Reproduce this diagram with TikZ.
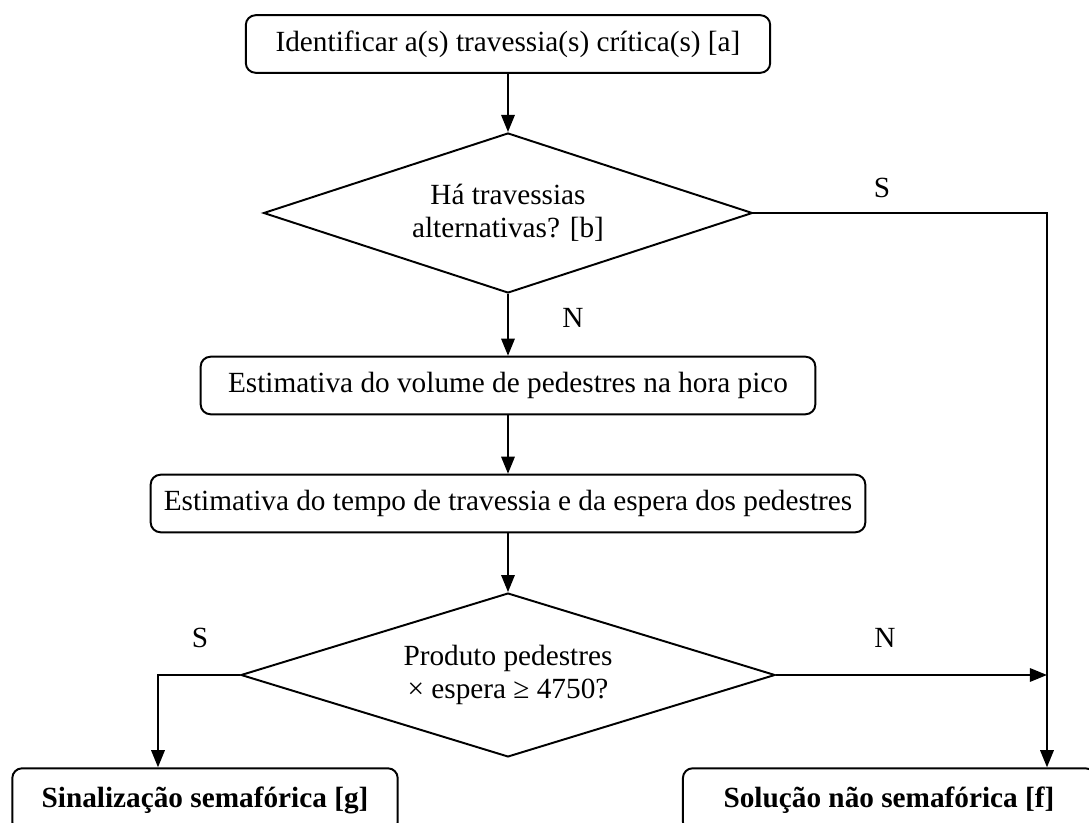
\documentclass[tikz,border=0pt]{standalone}
\usepackage{fontspec}
\setmainfont{Liberation Serif}
\usetikzlibrary{shapes.geometric, arrows.meta}

\begin{document}
\begin{tikzpicture}[x=0.41pt, y=-0.41pt, line width=0.8pt,
  font=\fontsize{12}{13.5}\selectfont,
  box/.style={draw, rounded corners=4pt, minimum height=23.6pt, inner sep=0pt},
  choice/.style={draw, diamond, inner sep=0pt, align=center},
  arr/.style={-{Triangle[length=7pt, width=5.5pt]}}]
\useasboundingbox (0,0) rectangle (1089,823);

\node[box, minimum width=215pt] (a) at (508,44) {Identificar a(s) travessia(s) crítica(s) [a]};
\node[choice, aspect=3.05, minimum width=200.5pt, minimum height=65.6pt] (b) at (508,213) {Há travessias\\alternativas? [b]};
\node[box, minimum width=252pt] (vol) at (508,385.5) {Estimativa do volume de pedestres na hora pico};
\node[box, minimum width=293pt] (tmp) at (508,503.5) {Estimativa do tempo de travessia e da espera dos pedestres};
\node[choice, aspect=3.26, minimum width=219pt, minimum height=67.2pt] (p) at (508,675) {Produto pedestres\\× espera ≥ 4750?};
\node[box, minimum width=158pt, minimum height=26pt] (g) at (205,800) {\textbf{Sinalização semafórica [g]}};
\node[box, minimum width=169pt, minimum height=26pt] (f) at (889,800) {\textbf{Solução não semafórica [f]}};

\coordinate (r) at (1047,213);
\coordinate (l) at (158,675);

\node (s1) at (882,188) {S};
\node (n1) at (573,318) {N};
\node (s2) at (200,638) {S};
\node (n2) at (885,638) {N};

\draw[arr] (a) -- (b);
\draw[arr] (b) -- (vol);
\draw[arr] (vol) -- (tmp);
\draw[arr] (tmp) -- (p);
\draw[arr] (b.east) -- (r) -- (r |- f.north);
\draw[arr] (p.east) -- (r |- p.east);
\draw[arr] (p.west) -- (l) -- (l |- g.north);

\end{tikzpicture}
\end{document}
